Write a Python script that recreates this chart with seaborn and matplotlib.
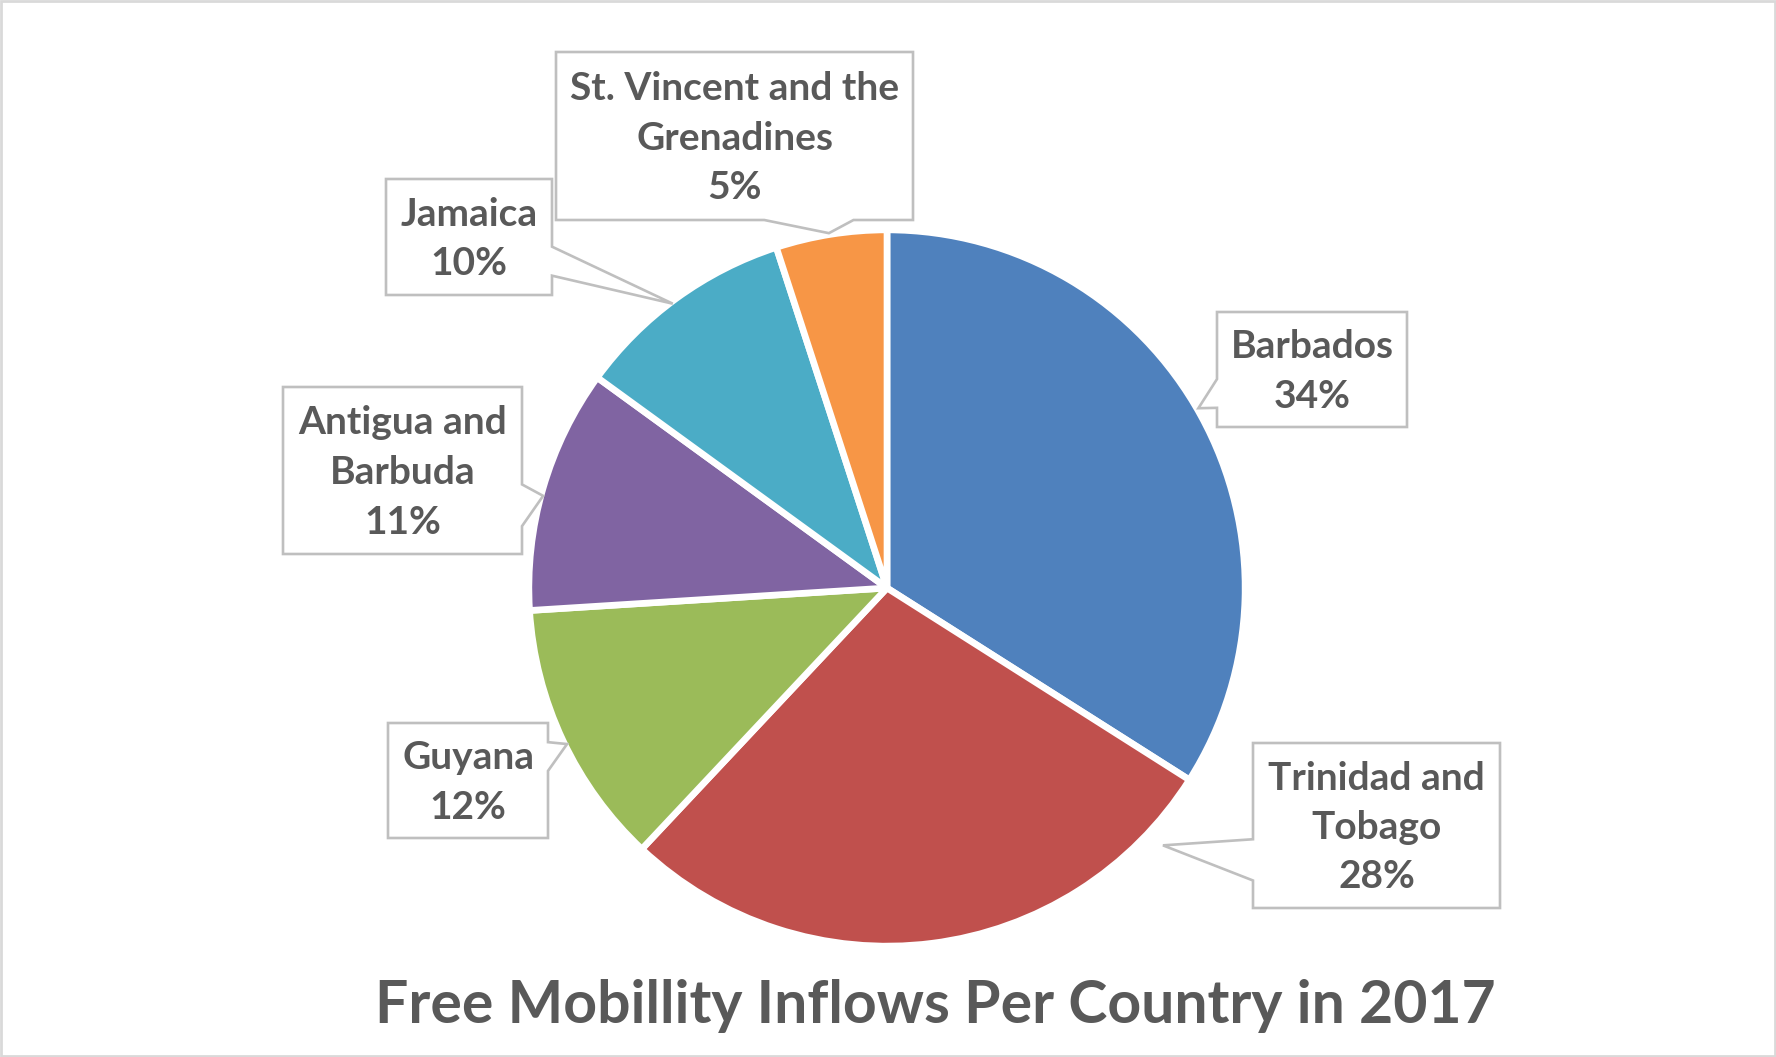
import matplotlib
matplotlib.use("Agg")
import numpy as np
import matplotlib.pyplot as plt
import seaborn as sns
from matplotlib.patches import Polygon, Rectangle

# data
countries = ["Barbados", "Trinidad and\nTobago", "Guyana", "Antigua and\nBarbuda",
             "Jamaica", "St. Vincent and the\nGrenadines"]
shares = [34, 28, 12, 11, 10, 5]
colors = ["#4F81BD", "#C0504D", "#9BBB59", "#8064A2", "#4BACC6", "#F79646"]
title = "Free Mobillity Inflows Per Country in 2017"

# layout (pixels)
W, H = 1776, 1057
CX, CY, R = 887, 588, 356
boxes = [(1217, 312, 1407, 427), (1253, 743, 1500, 908), (388, 723, 548, 838),
         (283, 387, 522, 554), (386, 179, 552, 295), (556, 52, 913, 220)]
tip_angles = [(30, 1.01), (-43, 1.06), (206, 1.0), (165, 1.0), (127, 1.0), (99.3, 1.01)]
TEXT = "#595959"
EDGE = "#BFBFBF"


def callout_points(box, tip):
    l, t, r, b = box
    tx, ty = tip
    w, h = r - l, b - t
    bx, by = (l + r) / 2, (t + b) / 2
    dx, dy = (tx - bx) / w, (ty - by) / h
    if abs(dx) >= abs(dy):
        f = (2 / 12, 5 / 12) if ty < by else (7 / 12, 10 / 12)
        y1, y2 = t + f[0] * h, t + f[1] * h
        if dx > 0:
            return [(l, t), (r, t), (r, y1), (tx, ty), (r, y2), (r, b), (l, b)]
        return [(l, t), (r, t), (r, b), (l, b), (l, y2), (tx, ty), (l, y1)]
    f = (2 / 12, 5 / 12) if tx < bx else (7 / 12, 10 / 12)
    x1, x2 = l + f[0] * w, l + f[1] * w
    if dy > 0:
        return [(l, t), (r, t), (r, b), (x2, b), (tx, ty), (x1, b), (l, b)]
    return [(l, t), (x1, t), (tx, ty), (x2, t), (r, t), (r, b), (l, b)]


sns.set_theme(style="white")
plt.rcParams["font.family"] = ["Lato", "DejaVu Sans"]

fig = plt.figure(figsize=(W / 100, H / 100), dpi=100)
fig.patch.set_facecolor("white")

# pie (radius padded slightly for the white outline)
ax = fig.add_axes([(CX - R) / W, (H - CY - R) / H, 2 * R / W, 2 * R / H])
ax.pie(shares, colors=colors, startangle=90, counterclock=False, radius=1.006,
       wedgeprops=dict(edgecolor="white", linewidth=4.8, joinstyle="round"))
ax.set_xlim(-1, 1)
ax.set_ylim(-1, 1)
ax.axis("off")

# overlay in pixel coordinates
ov = fig.add_axes([0, 0, 1, 1])
ov.set_xlim(0, W)
ov.set_ylim(H, 0)
ov.axis("off")
ov.set_zorder(3)

for name, val, box, (ang, rf) in zip(countries, shares, boxes, tip_angles):
    a = np.deg2rad(ang)
    tip = (CX + rf * R * np.cos(a), CY - rf * R * np.sin(a))
    ov.add_patch(Polygon(callout_points(box, tip), closed=True, facecolor="white",
                         edgecolor=EDGE, linewidth=1.9, joinstyle="miter"))
    l, t, r, b = box
    ov.text((l + r) / 2, (t + b) / 2 + 2, f"{name}\n{val}%", ha="center", va="center",
            multialignment="center", fontsize=28, fontweight="bold", color=TEXT,
            linespacing=1.5)

ov.text(935, 1023, title, ha="center", va="baseline", fontsize=42.4,
        fontweight="bold", color=TEXT)

ov.add_patch(Rectangle((1, 1), W - 2, H - 2, fill=False, edgecolor="#D9D9D9", linewidth=2))

fig.savefig("out.png", dpi=100)
